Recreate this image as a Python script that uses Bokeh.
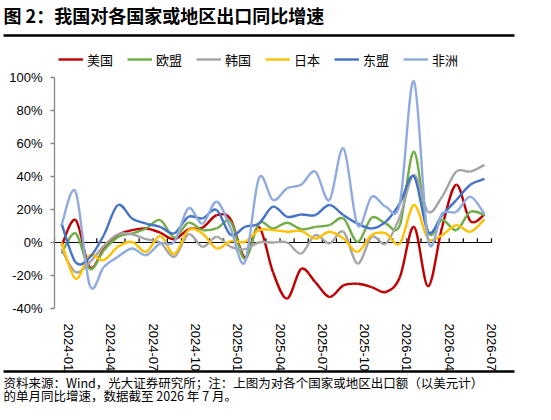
import math
from bokeh.plotting import figure
from bokeh.models import (Range1d, FixedTicker, Legend, LegendItem,
                          ColumnDataSource, LinearAxis)
from bokeh.core.properties import value
from bokeh.embed import file_html
from bokeh.resources import INLINE

# ---------------- data ----------------
months = ["2024-01", "2024-02", "2024-03", "2024-04", "2024-05", "2024-06",
          "2024-07", "2024-08", "2024-09", "2024-10", "2024-11", "2024-12",
          "2025-01", "2025-02", "2025-03", "2025-04", "2025-05", "2025-06",
          "2025-07", "2025-08", "2025-09", "2025-10", "2025-11", "2025-12",
          "2026-01", "2026-02", "2026-03", "2026-04", "2026-05", "2026-06",
          "2026-07"]

us = [-2, 13.6, -15, -4, 4.5, 7.5, 8.5, 6, 2, 8, 9, 16.5, 14, -9, 9.5, -18,
      -34, -16, -24, -33, -26, -25, -27, -30, -21, 9.5, -26.5, 9.5, 35, 13, 17]
eu = [-6.7, 5.5, -16, -4.7, 3.4, 5.5, 8.5, 13.6, 3, 12, 7.5, 8.5, 12.6, -10,
      11.5, 8.5, 12, 8, 9.5, 10.5, 14.6, 0.4, 15, 11.5, 10.5, 55, 6.5, 13.6,
      7.5, 18.6, 16.6]
kr = [-4, -18, -12, -2, 5, 5, 2, 0, -8.7, 5, -2.6, 3.4, -2.6, -4, 0, 0, 0,
      -6.7, 4.5, -0.6, 6.5, -12.8, 3.4, -0.6, 15.6, 41, 18.6, 27.8, 43, 43, 47]
jp = [0, -22, -7.7, -10.7, -2.6, 0.4, -5.7, 4, -7, 7.5, 5.5, -3.6, 0.8, 0.4,
      7.5, 7.5, 6.5, 7, 2.4, 6.5, 2.4, -5.7, 4.5, 5.5, -0.6, 22.7, 2.4, 4.5,
      10.5, 6.5, 14]
asean = [11.5, -12, -9, 4.5, 22.7, 14.6, 11.5, 9.5, 5.5, 15.6, 14.6, 19.7,
         4.5, 9.5, 11.5, 21.7, 15.6, 17, 16.6, 22.7, 16.6, 11.5, 8.5, 12.6,
         23.7, 40, 6.5, 16.6, 25.7, 35, 38.5]
africa = [10.5, 30.8, -26, -14.8, -8.7, -3.6, -7.7, -0.5, 0.4, 20.7, 11.5,
          24.7, 8.5, -12, 39, 25.7, 32.8, 35, 43, 25.7, 57, 10.5, 27.8, 21.7,
          23.7, 97.7, 1.4, 17.6, 18.6, 27.8, 17.2]

series_names = ["美国", "欧盟", "韩国", "日本", "东盟", "非洲"]
series_values = [us, eu, kr, jp, asean, africa]
series_colors = ["#C00000", "#70AD47", "#A5A5A5", "#FFC000", "#4472C4", "#8FAADC"]

y_ticks = [-40, -20, 0, 20, 40, 60, 80, 100]
x_label_idx = [0, 3, 6, 9, 12, 15, 18, 21, 24, 27, 30]

title_text = "图 2：我国对各国家或地区出口同比增速"
note_line1 = "资料来源：Wind，光大证券研究所；注：上图为对各个国家或地区出口额（以美元计）"
note_line2 = "的单月同比增速，数据截至 2026 年 7 月。"

CJK = "Noto Sans CJK SC"
LAT = "Liberation Sans"

# ---------------- layout (canvas pixels, y downward) ----------------
W, H = 535, 404
PLOT_L, PLOT_R = 54, 491     # y-axis position / right end of category axis
PLOT_T, PLOT_B = 77, 308     # pixel rows of 100% and -40%
Y_MIN, Y_MAX = -40, 100
n = len(months)
cat_px = (PLOT_R - PLOT_L) / n
val_px = (PLOT_B - PLOT_T) / (Y_MAX - Y_MIN)

x_start = -0.5 - PLOT_L / cat_px
x_end = -0.5 + (W - PLOT_L) / cat_px
y_start = Y_MIN - (H - PLOT_B) / val_px
y_end = Y_MAX + PLOT_T / val_px


def fx(px):
    return x_start + px / cat_px


def fy(py):
    return y_end - py / val_px


def smooth_segments(ys):
    """Bezier segments (Catmull-Rom style, like Excel's smoothed line)."""
    m = len(ys)
    xs = list(range(m))
    d = dict(x0=[], y0=[], x1=[], y1=[], cx0=[], cy0=[], cx1=[], cy1=[])
    for i in range(m - 1):
        a = i - 1 if i > 0 else i
        b = i + 2 if i + 2 < m else i + 1
        d["x0"].append(xs[i]); d["y0"].append(ys[i])
        d["x1"].append(xs[i + 1]); d["y1"].append(ys[i + 1])
        d["cx0"].append(xs[i] + (xs[i + 1] - xs[a]) / 6)
        d["cy0"].append(ys[i] + (ys[i + 1] - ys[a]) / 6)
        d["cx1"].append(xs[i + 1] - (xs[b] - xs[i]) / 6)
        d["cy1"].append(ys[i + 1] - (ys[b] - ys[i]) / 6)
    return ColumnDataSource(d)


p = figure(width=W, height=H, output_backend="svg", toolbar_location=None,
           x_range=Range1d(x_start, x_end), y_range=Range1d(y_start, y_end),
           min_border=0, min_border_left=0, min_border_right=0,
           min_border_top=0, min_border_bottom=0)
p.title.visible = False
p.xgrid.visible = False
p.ygrid.visible = False
p.outline_line_color = None
p.background_fill_color = "white"
p.border_fill_color = "white"

# y axis, drawn at the left edge of the category axis
p.yaxis.fixed_location = -0.5
p.yaxis.bounds = (Y_MIN, Y_MAX)
p.yaxis.ticker = FixedTicker(ticks=y_ticks)
p.yaxis.major_label_overrides = {v: f"{v}%" for v in y_ticks}
p.yaxis.axis_line_color = "#868686"
p.yaxis.axis_line_width = 1.3
p.yaxis.major_tick_line_color = "#868686"
p.yaxis.major_tick_line_width = 1.3
p.yaxis.major_tick_out = 4
p.yaxis.major_tick_in = 0
p.yaxis.minor_tick_line_color = None
p.yaxis.major_label_standoff = 8
p.yaxis.major_label_text_font = LAT
p.yaxis.major_label_text_font_size = "13px"
p.yaxis.major_label_text_color = "black"

# x axis: rotated month labels under the -40% line
label_pos = [i + 0.5 for i in x_label_idx]
p.xaxis.fixed_location = Y_MIN
p.xaxis.ticker = FixedTicker(ticks=label_pos)
p.xaxis.major_label_overrides = {pos: months[i] for pos, i in zip(label_pos, x_label_idx)}
p.xaxis.major_label_orientation = -math.pi / 2
p.xaxis.axis_line_color = None
p.xaxis.major_tick_line_color = None
p.xaxis.minor_tick_line_color = None
p.xaxis.major_label_standoff = 9
p.xaxis.major_label_text_font = LAT
p.xaxis.major_label_text_font_size = "13px"
p.xaxis.major_label_text_color = "black"

# zero line with monthly tick marks
bounds = [i - 0.5 for i in range(n + 1)]
p.segment(x0=[bounds[0]], x1=[bounds[-1]], y0=[0], y1=[0],
          line_color="black", line_width=1.2)
p.segment(x0=bounds, x1=bounds, y0=[0] * len(bounds), y1=[2.6] * len(bounds),
          line_color="black", line_width=1.2)

items = []
for name, vals, col in zip(series_names, series_values, series_colors):
    src = smooth_segments(vals)
    r = p.bezier(x0="x0", y0="y0", x1="x1", y1="y1", cx0="cx0", cy0="cy0",
                 cx1="cx1", cy1="cy1", source=src, line_color=col,
                 line_width=2.4)
    items.append(LegendItem(label=name, renderers=[r]))

LEG_H = 20
legend = Legend(items=items, orientation="horizontal",
                location=(58, H - 49 - LEG_H),
                glyph_width=25, glyph_height=LEG_H, label_height=LEG_H,
                label_standoff=4, spacing=14, padding=0, margin=0,
                border_line_color=None, background_fill_alpha=0,
                label_text_font=CJK, label_text_font_size="13px",
                label_text_color="black")
p.add_layout(legend, "center")

# title and notes
p.text(x=[fx(3)], y=[fy(14)], text=[title_text], text_font=value(CJK),
       text_font_size="18px", text_font_style="bold",
       text_baseline="middle", text_align="left", text_color="black")
p.text(x=[fx(3), fx(3)], y=[fy(381.5), fy(395)],
       text=[note_line1, note_line2], text_font=value(CJK),
       text_font_size="12.5px", text_baseline="middle", text_align="left",
       text_color="black")

# black separator rules: tick-less axis lines pinned at fixed rows
RULE_ROWS = [(34.7, "above"), (371, "below")]
for row, side in RULE_ROWS:
    rule = LinearAxis(fixed_location=fy(row), bounds=(fx(3), fx(514)),
                      ticker=FixedTicker(ticks=[]),
                      axis_line_color="black", axis_line_width=2.7,
                      major_tick_line_color=None, minor_tick_line_color=None,
                      major_label_text_font_size="1px")
    p.add_layout(rule, side)

open("out.html", "w").write(file_html(p, INLINE))
